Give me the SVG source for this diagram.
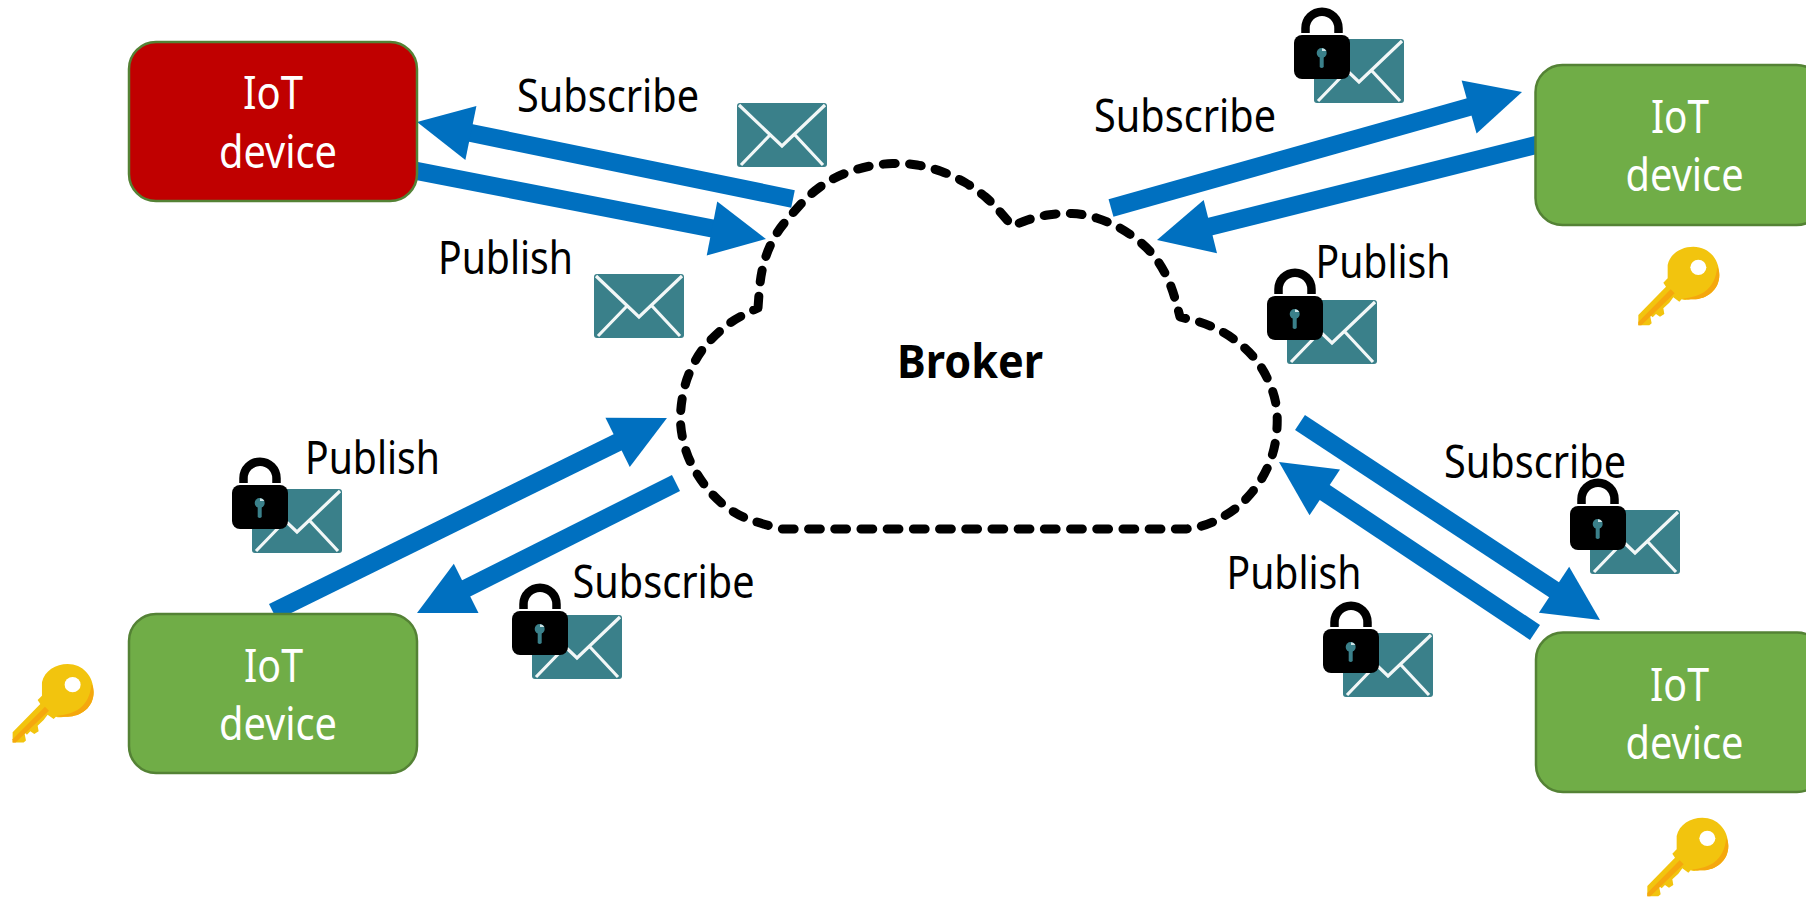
<svg xmlns="http://www.w3.org/2000/svg" width="1806" height="898" viewBox="0 0 1806 898">
<style>
text{font-family:"Noto Sans","Open Sans","Liberation Sans",sans-serif;font-size:46px}
.lbl{fill:#000}
.nt{fill:#fff}
.br{font-weight:700;font-size:47px}
.box{stroke:#548235;stroke-width:2.5}
.g{fill:#70AD47}
.r{fill:#C00000}
.arrow{stroke:#0070C0;stroke-width:18;fill:none;marker-end:url(#head)}
.cloud{fill:none;stroke:#000;stroke-width:9;stroke-linecap:round;stroke-linejoin:round;stroke-dasharray:11.8 14.4}
</style>
<defs>
<marker id="head" markerUnits="userSpaceOnUse" markerWidth="56" markerHeight="56" refX="5" refY="27.5" orient="auto" overflow="visible"><path d="M0,0L55,27.5L0,55Z" fill="#0070C0"/></marker>
<g id="env"><rect width="90" height="64" rx="3" fill="#3A808A"/><path d="M2,2L45,43L88,2M4,62L33,32M86,62L58,32" fill="none" stroke="#f2f7f7" stroke-width="3.2"/></g>
<g id="lock"><path d="M11.5,-2V-6.75A16.5,16.5 0 0 1 44.5,-6.75V-2" fill="none" stroke="#000" stroke-width="8.5"/><rect width="56" height="44" rx="8" fill="#000"/><circle cx="27.7" cy="18" r="5" fill="#3A808A"/><path d="M25.7,20H29.7V32Q27.7,34 25.7,32Z" fill="#3A808A"/><path d="M28,13.2A5,5 0 0 1 32.4,16L28,16Z" fill="#cfe3e6"/></g>
<g id="lockedenv"><use href="#env"/><use href="#lock" x="-20" y="-4"/></g>
<g id="key" transform="scale(.3333)"><path d="M113,75C120,40 155,20 190,20C235,20 268,55 268,105C268,150 230,178 190,178C175,178 165,182 155,178L148,185L130,172L118,188L100,205L103,222L90,230L78,222L68,232L60,225L65,250L58,256L25,256L25,225L108,140L100,128L113,115Z" fill="#F2C40E"/><path d="M268,105C268,150 230,178 190,178C178,178 168,180 158,175C210,172 255,150 262,80C266,88 268,96 268,105Z" fill="#F5A70E"/><path d="M122,148L25,246V256H34L134,160Z" fill="#F5A70E"/><ellipse cx="205" cy="82" rx="24" ry="23" fill="#fff"/></g>
</defs>
<g id="connectors">
<line class="arrow" x1="793" y1="199" x2="466" y2="132"/>
<line class="arrow" x1="415" y1="170.6" x2="716.9" y2="229.4"/>
<line class="arrow" x1="1111" y1="208" x2="1473.9" y2="105.6"/>
<line class="arrow" x1="1538" y1="144.5" x2="1205.5" y2="227.8"/>
<line class="arrow" x1="273" y1="612" x2="622.1" y2="440.1"/>
<line class="arrow" x1="676" y1="483" x2="461.7" y2="590.6"/>
<line class="arrow" x1="1300" y1="422.5" x2="1558.2" y2="592.5"/>
<line class="arrow" x1="1535" y1="632.5" x2="1320.6" y2="489.7"/>
</g>
<g id="broker">
<path class="cloud" d="M758,308L759,294Q760,280 762.5,268.5Q765,257 770.5,245Q776,233 783.5,224Q791,215 800,205Q809,195 820,187Q831,179 843.5,174Q856,169 868,166.5Q880,164 892.5,163.5Q905,163 917,165Q929,167 941.5,171.5Q954,176 965,182.5Q976,189 985.5,197Q995,205 1012,226L1023.5,221.5Q1035,217 1047.5,215Q1060,213 1072,213.5Q1084,214 1096.5,218Q1109,222 1119,227.5Q1129,233 1139.5,241.5Q1150,250 1157,260Q1164,270 1169,281.5Q1174,293 1180,317L1192,320Q1205,323 1217,329Q1229,335 1239.5,343.5Q1250,352 1257.5,362Q1265,372 1270,384.5Q1275.5,397 1276.75,410Q1278,423 1276,438Q1274,453 1268,466.5Q1262,480 1253,491Q1244,502 1235.5,508.5Q1227,515 1215,521Q1203,527 1186,529L782,529Q758,523 746.75,518.5Q735.5,514 725,506Q715,498 707,488Q699,478 692.75,466.5Q686.5,455 683.25,441Q680,427 680.5,415Q681,403 683.75,390.5Q686.5,378 692.75,365.5Q699,353 707,344Q715,335 725.25,326.5Q735.5,318 758,308Z"/>
<text class="lbl br" x="897" y="378" textLength="146" lengthAdjust="spacingAndGlyphs">Broker</text>
</g>
<g id="device-red">
<rect class="box r" x="129" y="42" width="288" height="159" rx="27"/>
<text class="nt" x="243" y="109" textLength="60" lengthAdjust="spacingAndGlyphs">IoT</text>
<text class="nt" x="219" y="168" textLength="118" lengthAdjust="spacingAndGlyphs">device</text>
</g>
<g id="device-top-right">
<rect class="box g" x="1535.5" y="65" width="288" height="160" rx="27"/>
<text class="nt" x="1651" y="132.7" textLength="58" lengthAdjust="spacingAndGlyphs">IoT</text>
<text class="nt" x="1625.6" y="191" textLength="118" lengthAdjust="spacingAndGlyphs">device</text>
</g>
<g id="device-bottom-left">
<rect class="box g" x="129" y="614" width="288" height="159" rx="27"/>
<text class="nt" x="244" y="681.7" textLength="59" lengthAdjust="spacingAndGlyphs">IoT</text>
<text class="nt" x="219" y="740" textLength="118" lengthAdjust="spacingAndGlyphs">device</text>
</g>
<g id="device-bottom-right">
<rect class="box g" x="1536" y="632.5" width="288" height="159.5" rx="27"/>
<text class="nt" x="1650" y="701" textLength="59" lengthAdjust="spacingAndGlyphs">IoT</text>
<text class="nt" x="1625.5" y="759" textLength="118" lengthAdjust="spacingAndGlyphs">device</text>
</g>
<g id="labels">
<text class="lbl" x="517" y="112" textLength="182" lengthAdjust="spacingAndGlyphs">Subscribe</text>
<text class="lbl" x="1094" y="132" textLength="182" lengthAdjust="spacingAndGlyphs">Subscribe</text>
<text class="lbl" x="438" y="274" textLength="135" lengthAdjust="spacingAndGlyphs">Publish</text>
<text class="lbl" x="1315.5" y="277.5" textLength="135" lengthAdjust="spacingAndGlyphs">Publish</text>
<text class="lbl" x="305" y="473.5" textLength="135" lengthAdjust="spacingAndGlyphs">Publish</text>
<text class="lbl" x="572.5" y="598" textLength="182" lengthAdjust="spacingAndGlyphs">Subscribe</text>
<text class="lbl" x="1444" y="478" textLength="182" lengthAdjust="spacingAndGlyphs">Subscribe</text>
<text class="lbl" x="1226.5" y="588.5" textLength="135" lengthAdjust="spacingAndGlyphs">Publish</text>
</g>
<g id="messages">
<use href="#env" x="737" y="103"/>
<use href="#env" x="594" y="274"/>
<use href="#lockedenv" x="1314" y="39"/>
<use href="#lockedenv" x="1287" y="300"/>
<use href="#lockedenv" x="252" y="489"/>
<use href="#lockedenv" x="532" y="615"/>
<use href="#lockedenv" x="1590" y="510"/>
<use href="#lockedenv" x="1343" y="633"/>
</g>
<g id="keys">
<g transform="translate(1630,240)"><use href="#key"/></g>
<g transform="translate(4.3,657.3)"><use href="#key"/></g>
<g transform="translate(1639,811)"><use href="#key"/></g>
</g>
</svg>
